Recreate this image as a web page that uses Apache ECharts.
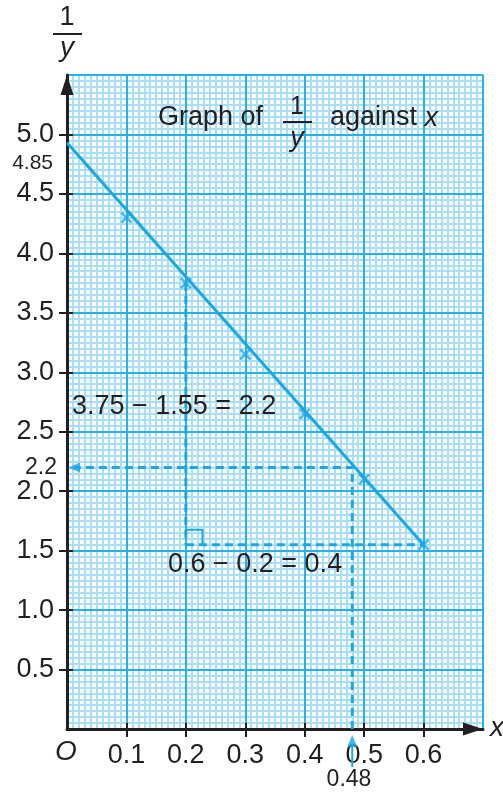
<!DOCTYPE html>
<html><head><meta charset="utf-8">
<script src="https://cdn.jsdelivr.net/npm/echarts@6/dist/echarts.min.js"></script>
<style>html,body{margin:0;padding:0;background:#fff}#c{width:503px;height:793px}</style>
</head><body><div id="c"></div>
<script>
// ---- data ----
const xTickValues = [0.1, 0.2, 0.3, 0.4, 0.5, 0.6];
const xTickLabels = ['0.1', '0.2', '0.3', '0.4', '0.5', '0.6'];
const yTickValues = [0.5, 1.0, 1.5, 2.0, 2.5, 3.0, 3.5, 4.0, 4.5, 5.0];
const yTickLabels = ['0.5', '1.0', '1.5', '2.0', '2.5', '3.0', '3.5', '4.0', '4.5', '5.0'];
const pointX = [0.1, 0.2, 0.3, 0.4, 0.5, 0.6];
const pointY = [4.3, 3.75, 3.15, 2.65, 2.1, 1.55];
const fitX = [0, 0.6];
const fitY = [4.93, 1.55];
const riseX = [0.2, 0.2];
const riseY = [3.75, 1.55];
const runX = [0.2, 0.6];
const runY = [1.55, 1.55];
const cornerX = [0.2, 0.228, 0.228];
const cornerY = [1.675, 1.675, 1.55];
const readX = [0.48, 0.48, 0.012];
const readY = [0, 2.2, 2.2];
const shaftX = [0.48, 0.48];
const shaftY = [-0.12, -0.32];

const X_MIN = 0, X_MAX = 0.7, X_STEP = 0.1;
const Y_MIN = 0, Y_MAX = 5.5, Y_STEP = 0.5;

const BLUE = '#1aa8e2';
const MINOR = '#a9dff6';
const MAJOR = '#22b3ec';
const INK = '#231f20';
const FONT = '"Liberation Sans", Arial, sans-serif';

const zip = (a, b) => a.map((v, i) => [v, b[i]]);

function baseAxis(extra) {
  return Object.assign({
    type: 'value', axisLine: {show: false}, axisTick: {show: false},
    axisLabel: {show: false}, splitLine: {show: false}
  }, extra);
}
function axesFor(dim) {
  const isX = dim === 'x';
  const rng = isX ? {min: X_MIN, max: X_MAX, interval: X_STEP} : {min: Y_MIN, max: Y_MAX, interval: Y_STEP};
  const pos = isX ? 'bottom' : 'left';
  const tv = isX ? xTickValues : yTickValues;
  const tl = isX ? xTickLabels : yTickLabels;
  return [
    baseAxis(Object.assign({position: pos, z: 0,
      minorTick: {show: false, splitNumber: 10},
      minorSplitLine: {show: true, lineStyle: {color: MINOR, width: 2}}}, rng)),
    baseAxis(Object.assign({position: pos, z: 1,
      splitLine: {show: true, lineStyle: {color: MAJOR, width: 2}}}, rng)),
    baseAxis(Object.assign({position: pos, z: 3,
      axisLine: {show: true, lineStyle: {color: INK, width: 3},
        symbol: ['none', 'triangle'], symbolSize: [13, 20], symbolOffset: [0, -10]},
      axisTick: {show: true, inside: false, length: 8, customValues: tv, lineStyle: {color: INK, width: 2}},
      axisLabel: {show: true, customValues: tv, margin: 13, fontSize: 27, color: INK, fontFamily: FONT,
        formatter: v => { const i = tv.findIndex(t => Math.abs(t - v) < 1e-6); return i >= 0 ? tl[i] : ''; }}
    }, rng)),
    baseAxis(Object.assign({position: pos, z: 3,
      axisTick: {show: true, inside: true, length: 6, customValues: tv, lineStyle: {color: INK, width: 2}}}, rng))
  ];
}

const chart = echarts.init(document.getElementById('c'), null, {renderer: 'canvas'});
const ax = {xAxisIndex: 2, yAxisIndex: 2};
const dashed = {color: BLUE, width: 3, type: [8, 5]};
const T = (x, y, text, font, align, extra) => Object.assign({type: 'text', x: x, y: y, z: 100,
  style: Object.assign({text: text, font: font, fill: INK, align: align, verticalAlign: 'middle'}, extra || {})});
chart.setOption({
  animation: false,
  backgroundColor: '#fff',
  grid: {left: 67, top: 75, right: 20, bottom: 64, containLabel: false},
  xAxis: axesFor('x'),
  yAxis: axesFor('y'),
  series: [
    Object.assign({type: 'line', z: 5, data: zip(fitX, fitY), symbol: 'none', lineStyle: {color: BLUE, width: 3}}, ax),
    Object.assign({type: 'line', z: 5, data: zip(riseX, riseY), symbol: 'none', lineStyle: dashed}, ax),
    Object.assign({type: 'line', z: 5, data: zip(runX, runY), symbol: 'none', lineStyle: dashed}, ax),
    Object.assign({type: 'line', z: 5, data: zip(cornerX, cornerY), symbol: 'none', lineStyle: {color: BLUE, width: 2}}, ax),
    Object.assign({type: 'line', z: 5, data: zip(readX, readY), symbol: 'none', lineStyle: dashed}, ax),
    Object.assign({type: 'line', z: 5, clip: false, data: zip(shaftX, shaftY), symbol: 'none', lineStyle: {color: BLUE, width: 2}}, ax),
    Object.assign({type: 'scatter', z: 6, clip: false, data: [[readX[2] - 0.012, readY[2]]], symbol: 'triangle',
      symbolSize: [10, 12], symbolRotate: 90, symbolOffset: [7, 0], itemStyle: {color: BLUE}}, ax),
    Object.assign({type: 'scatter', z: 6, clip: false, data: [[readX[0], 0]], symbol: 'triangle',
      symbolSize: [10, 12], symbolOffset: [0, 12], itemStyle: {color: BLUE}}, ax),
    Object.assign({type: 'scatter', z: 6, data: zip(pointX, pointY), symbol: 'path://M0 0L10 10M10 0L0 10',
      symbolSize: 10, itemStyle: {color: 'none', borderColor: BLUE, borderWidth: 2.5}}, ax)
  ],
  graphic: [
    // y-axis title 1/y
    T(67, 18, '1', '27px ' + FONT, 'center'),
    {type: 'line', z: 100, shape: {x1: 53, y1: 34, x2: 82, y2: 34}, style: {stroke: INK, lineWidth: 2}},
    T(67, 48, 'y', 'italic 28px ' + FONT, 'center'),
    // chart title
    T(158, 118, 'Graph of', '27px ' + FONT, 'left'),
    T(297, 107, '1', '25px ' + FONT, 'center'),
    {type: 'line', z: 100, shape: {x1: 283, y1: 122, x2: 312, y2: 122}, style: {stroke: INK, lineWidth: 2}},
    T(297, 138, 'y', 'italic 27px ' + FONT, 'center'),
    T(330, 118, 'against {i|x}', '27px ' + FONT, 'left', {rich: {i: {font: 'italic 27px ' + FONT, fill: INK}}}),
    // axis letters
    T(66, 752, 'O', 'italic 28px ' + FONT, 'center'),
    T(497, 728, 'x', 'italic 28px ' + FONT, 'center'),
    // value labels
    T(53, 163, '4.85', '21px ' + FONT, 'right'),
    T(57, 468, '2.2', '23px ' + FONT, 'right'),
    T(349, 780, '0.48', '23px ' + FONT, 'center'),
    // working
    T(72, 407, '3.75 \u2212 1.55 = 2.2', '27px ' + FONT, 'left'),
    T(168, 565, '0.6 \u2212 0.2 = 0.4', '27px ' + FONT, 'left')
  ]
});
</script></body></html>
